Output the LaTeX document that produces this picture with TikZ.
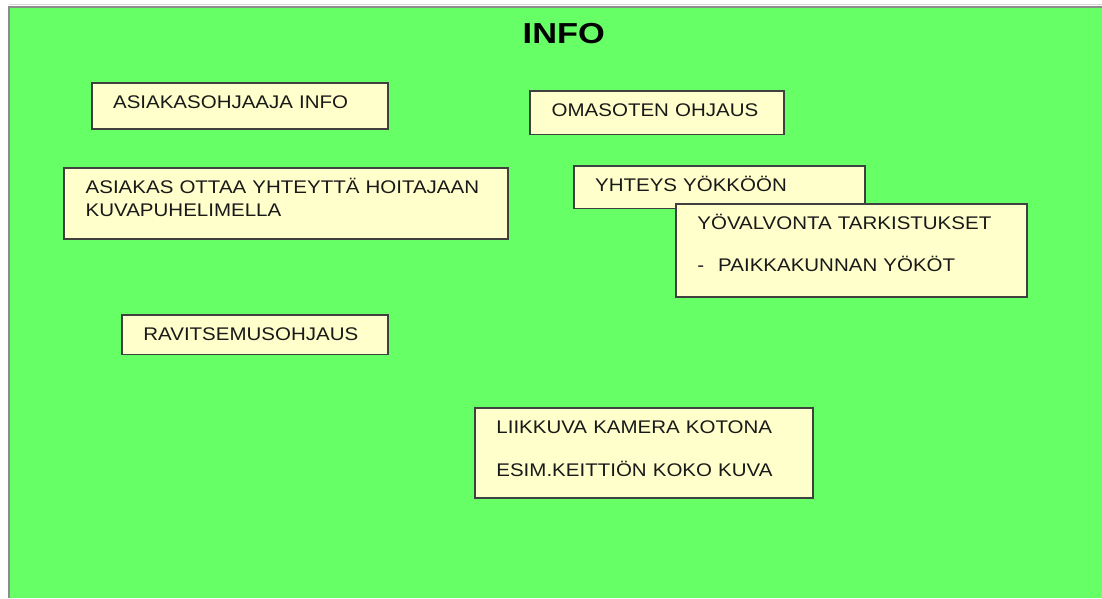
\documentclass[tikz,border=0pt]{standalone}
\usepackage{fontspec}
\setmainfont{Liberation Sans}[FakeStretch=1.12]
\newfontfamily\titlefont{Liberation Sans}[FakeStretch=1.19]
\definecolor{infogreen}{HTML}{66FF66}
\definecolor{boxyellow}{HTML}{FFFFCC}

\begin{document}
\begin{tikzpicture}[x=1pt,y=-1pt,
        infobox/.style={draw=black!75, line width=1.8pt, fill=boxyellow,
            anchor=north west, inner xsep=21.5pt, inner ysep=0pt, align=left,
            font=\fontsize{18.3}{23}\selectfont, text=black!90,
            execute at begin node={\rule{0pt}{25.5pt}},
            execute at end node={\rule[-#1]{0pt}{0pt}}}]
        \useasboundingbox (0,0) rectangle (1102,598);
        % background
        \fill [infogreen] (9,7) rectangle (1102,598);
        \draw [gray!30, line width=1.5pt] (9,4.5) -- (1102,4.5);
        \draw [black!45, line width=2pt] (8.5,598) -- (8.5,6.5) -- (1102,6.5);

        \node [font=\titlefont\bfseries\fontsize{28.9}{30}\selectfont] (otsikko) at (563.8,33.7) {INFO};

        \node [infobox=20pt, text width=253pt] (asiakasohjaaja) at (90.7,82.3) {ASIAKASOHJAAJA INFO};
        \node [infobox=18pt, text width=210.4pt] (omasote) at (529.3,90) {OMASOTEN OHJAUS};
        \node [infobox=22.3pt, text width=400.4pt] (yhteydenotto) at (63.3,167.3)
            {ASIAKAS OTTAA YHTEYTTÄ HOITAJAAN\\KUVAPUHELIMELLA};
        \node [infobox=16.7pt, text width=248.3pt] (yhteys) at (572.7,165.3) {YHTEYS YÖKKÖÖN};
        \node [infobox=25.3pt, text width=307.7pt] (yovalvonta) at (675,202.7)
            {YÖVALVONTA TARKISTUKSET\\[19.4pt]-\hspace{14pt}PAIKKAKUNNAN YÖKÖT};
        \node [infobox=14pt, text width=222.7pt] (ravitsemus) at (121,314) {RAVITSEMUSOHJAUS};
        \node [infobox=21.6pt, text width=294.7pt] (kamera) at (474,407.3)
            {LIIKKUVA KAMERA KOTONA\\[19.5pt]ESIM.KEITTIÖN KOKO KUVA};

    \end{tikzpicture}
\end{document}
